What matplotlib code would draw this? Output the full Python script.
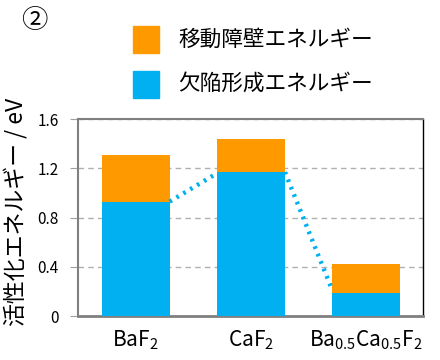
import matplotlib
matplotlib.use("Agg")
import matplotlib.pyplot as plt
from matplotlib.patches import Rectangle

plt.rcParams['font.family'] = ['Noto Sans CJK JP', 'DejaVu Sans']
plt.rcParams['mathtext.default'] = 'regular'

# data
materials = ['BaF$_2$', 'CaF$_2$', 'Ba$_{0.5}$Ca$_{0.5}$F$_2$']
defect_energy = [0.93, 1.17, 0.185]      # 欠陥形成エネルギー
migration_energy = [0.38, 0.27, 0.235]   # 移動障壁エネルギー
# dotted connector: (x, y) of segment ends
link_x = [0.295, 0.705, None, 1.295, 1.705]
link_y = [0.93, 1.16, None, 1.17, 0.21]

blue = '#00B0F0'
orange = '#FF9900'

fig = plt.figure(figsize=(4.4, 3.6), dpi=100)
ax = fig.add_axes([0.177, 0.122, 0.784, 0.547])

x = list(range(len(materials)))
ax.bar(x, defect_energy, width=0.59, color=blue, zorder=3)
ax.bar(x, migration_energy, width=0.59, bottom=defect_energy, color=orange, zorder=3)

# connector lines between the blue tops
ax.plot(link_x[:2], link_y[:2], linestyle=(0, (0.6, 1.2)), color=blue, lw=3.2,
        solid_capstyle='butt', zorder=4)
ax.plot(link_x[3:], link_y[3:], linestyle=(0, (0.6, 1.2)), color=blue, lw=3.2,
        solid_capstyle='butt', zorder=4)

ax.set_xlim(-0.5, 2.49)
ax.set_ylim(0, 1.6)
ax.set_yticks([0, 0.4, 0.8, 1.2, 1.6])
ax.set_yticklabels(['0', '0.4', '0.8', '1.2', '1.6'], fontsize=11)
ax.set_xticks(x)
ax.set_xticklabels(materials, fontsize=15)
ax.tick_params(axis='x', length=0, pad=9)
ax.tick_params(axis='y', length=6, color='#a0a0a0', pad=8)
ax.yaxis.grid(True, color='#b0b0b0', linestyle=(0, (4, 3)), lw=1, zorder=0)

for s in ['left', 'top', 'bottom']:
    ax.spines[s].set_color('#808080')
ax.spines['bottom'].set_linewidth(2)
ax.spines['left'].set_linewidth(1.5)
ax.spines['top'].set_linewidth(1.5)
ax.spines['right'].set_color('black')
ax.spines['right'].set_linewidth(1)

fig.text(0.038, 0.41, '活性化エネルギー / eV', rotation=90, fontsize=16.5,
         ha='center', va='center')

# circled number
fig.text(34 / 440, 1 - 20 / 360, '②', fontsize=19, ha='center', va='center')

# legend drawn by hand
fig.add_artist(Rectangle((133 / 440, 1 - 53 / 360), 26 / 440, 27 / 360,
                         transform=fig.transFigure, color=orange))
fig.add_artist(Rectangle((133 / 440, 1 - 98 / 360), 26 / 440, 27 / 360,
                         transform=fig.transFigure, color=blue))
fig.text(178 / 440, 1 - 40 / 360, '移動障壁エネルギー', fontsize=15.6, va='center')
fig.text(178 / 440, 1 - 84 / 360, '欠陥形成エネルギー', fontsize=15.6, va='center')

fig.savefig('out.png', dpi=100)
